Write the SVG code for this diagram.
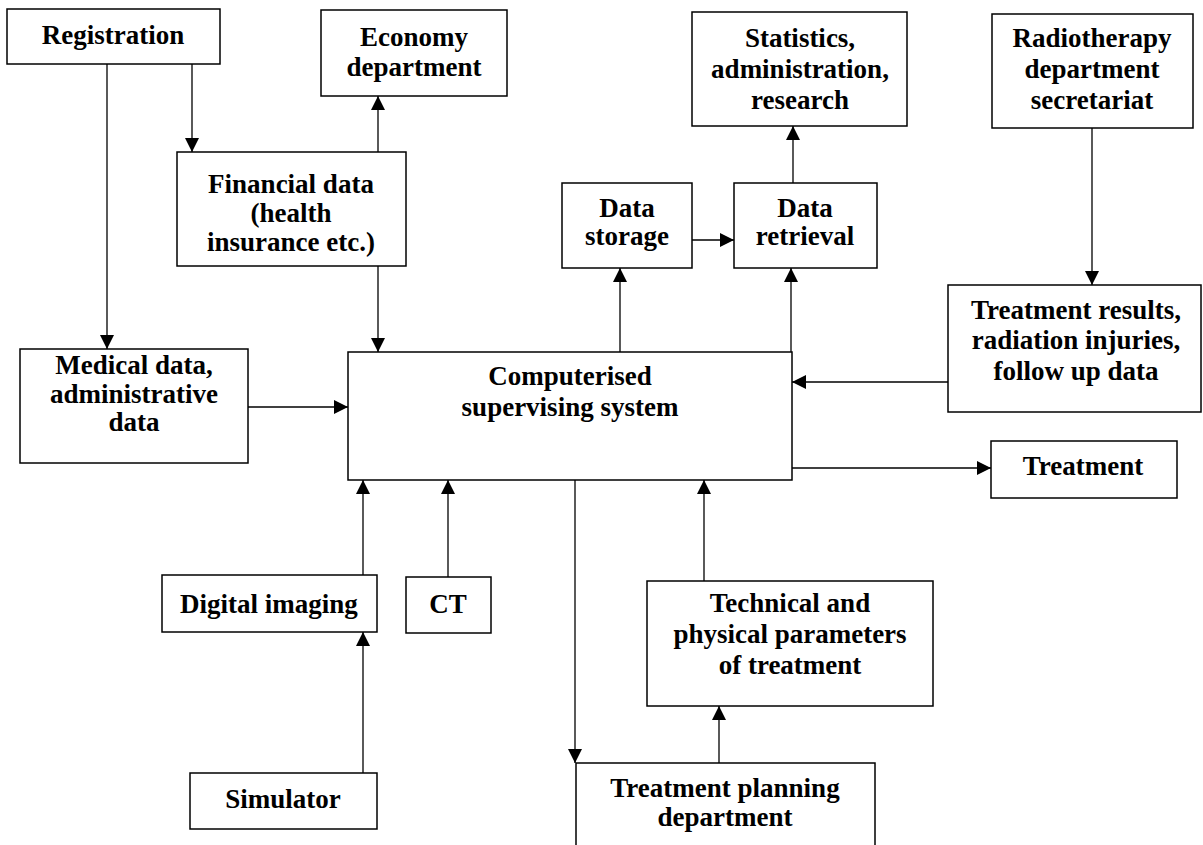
<svg xmlns="http://www.w3.org/2000/svg" width="1203" height="845" viewBox="0 0 1203 845">
<defs>
<marker id="arr" markerUnits="userSpaceOnUse" viewBox="0 0 14 14" refX="14" refY="7" markerWidth="14" markerHeight="14" orient="auto">
<path d="M0,0 L14,7 L0,14 z" fill="#000"/>
</marker>
<style>
.box{fill:#fff;stroke:#000;stroke-width:1.5}
.t{font-family:"Liberation Serif","Times New Roman",serif;font-weight:bold;font-size:27px;fill:#000;text-anchor:middle}
.c{fill:none;stroke:#000;stroke-width:1.3;marker-end:url(#arr)}
</style>
</defs>
<rect width="1203" height="845" fill="#fff"/>
<g id="connectors">
<line class="c" x1="107" y1="64" x2="107" y2="349"/>
<line class="c" x1="192" y1="64" x2="192" y2="152"/>
<line class="c" x1="378" y1="152" x2="378" y2="96"/>
<line class="c" x1="378" y1="266" x2="378" y2="352"/>
<line class="c" x1="248" y1="407" x2="348" y2="407"/>
<line class="c" x1="620" y1="352" x2="620" y2="268"/>
<line class="c" x1="692" y1="240" x2="734" y2="240"/>
<line class="c" x1="791" y1="352" x2="791" y2="268"/>
<line class="c" x1="793" y1="183" x2="793" y2="126"/>
<line class="c" x1="1092" y1="128" x2="1092" y2="285"/>
<line class="c" x1="948" y1="382" x2="792" y2="382"/>
<line class="c" x1="792" y1="468" x2="991" y2="468"/>
<line class="c" x1="363" y1="575" x2="363" y2="480"/>
<line class="c" x1="448" y1="577" x2="448" y2="480"/>
<line class="c" x1="363" y1="773" x2="363" y2="632"/>
<line class="c" x1="575" y1="480" x2="575" y2="763"/>
<line class="c" x1="704" y1="581" x2="704" y2="480"/>
<line class="c" x1="719" y1="763" x2="719" y2="706"/>
</g>
<g id="registration"><rect class="box" x="7" y="9" width="213" height="55"/><text class="t" x="113" y="44">Registration</text></g>
<g id="economy"><rect class="box" x="321" y="10" width="186" height="86"/><text class="t" x="414" y="46">Economy</text><text class="t" x="414" y="76">department</text></g>
<g id="statistics"><rect class="box" x="692" y="12" width="215" height="114"/><text class="t" x="800" y="47">Statistics,</text><text class="t" x="800" y="78">administration,</text><text class="t" x="800" y="109">research</text></g>
<g id="radiotherapy"><rect class="box" x="992" y="14" width="201" height="114"/><text class="t" x="1092" y="47">Radiotherapy</text><text class="t" x="1092" y="78">department</text><text class="t" x="1092" y="109">secretariat</text></g>
<g id="financial"><rect class="box" x="177" y="152" width="229" height="114"/><text class="t" x="291" y="193">Financial data</text><text class="t" x="291" y="222">(health</text><text class="t" x="291" y="251">insurance etc.)</text></g>
<g id="storage"><rect class="box" x="562" y="183" width="130" height="85"/><text class="t" x="627" y="217">Data</text><text class="t" x="627" y="245">storage</text></g>
<g id="retrieval"><rect class="box" x="734" y="183" width="143" height="85"/><text class="t" x="805" y="217">Data</text><text class="t" x="805" y="245">retrieval</text></g>
<g id="results"><rect class="box" x="948" y="285" width="253" height="127"/><text class="t" x="1076" y="319">Treatment results,</text><text class="t" x="1076" y="349">radiation injuries,</text><text class="t" x="1076" y="380">follow up data</text></g>
<g id="medical"><rect class="box" x="20" y="349" width="228" height="114"/><text class="t" x="134" y="374">Medical data,</text><text class="t" x="134" y="403">administrative</text><text class="t" x="134" y="431">data</text></g>
<g id="computerised"><rect class="box" x="348" y="352" width="444" height="128"/><text class="t" x="570" y="385">Computerised</text><text class="t" x="570" y="416">supervising system</text></g>
<g id="treatment"><rect class="box" x="991" y="441" width="186" height="57"/><text class="t" x="1083" y="475">Treatment</text></g>
<g id="digital"><rect class="box" x="162" y="575" width="215" height="57"/><text class="t" x="269" y="613">Digital imaging</text></g>
<g id="ct"><rect class="box" x="406" y="577" width="85" height="56"/><text class="t" x="448" y="613">CT</text></g>
<g id="technical"><rect class="box" x="647" y="581" width="286" height="125"/><text class="t" x="790" y="612">Technical and</text><text class="t" x="790" y="643">physical parameters</text><text class="t" x="790" y="674">of treatment</text></g>
<g id="simulator"><rect class="box" x="190" y="773" width="187" height="56"/><text class="t" x="283" y="808">Simulator</text></g>
<g id="planning"><path class="box" d="M576,846 V763 H875 V846"/><text class="t" x="725" y="797">Treatment planning</text><text class="t" x="725" y="826">department</text></g>
</svg>
